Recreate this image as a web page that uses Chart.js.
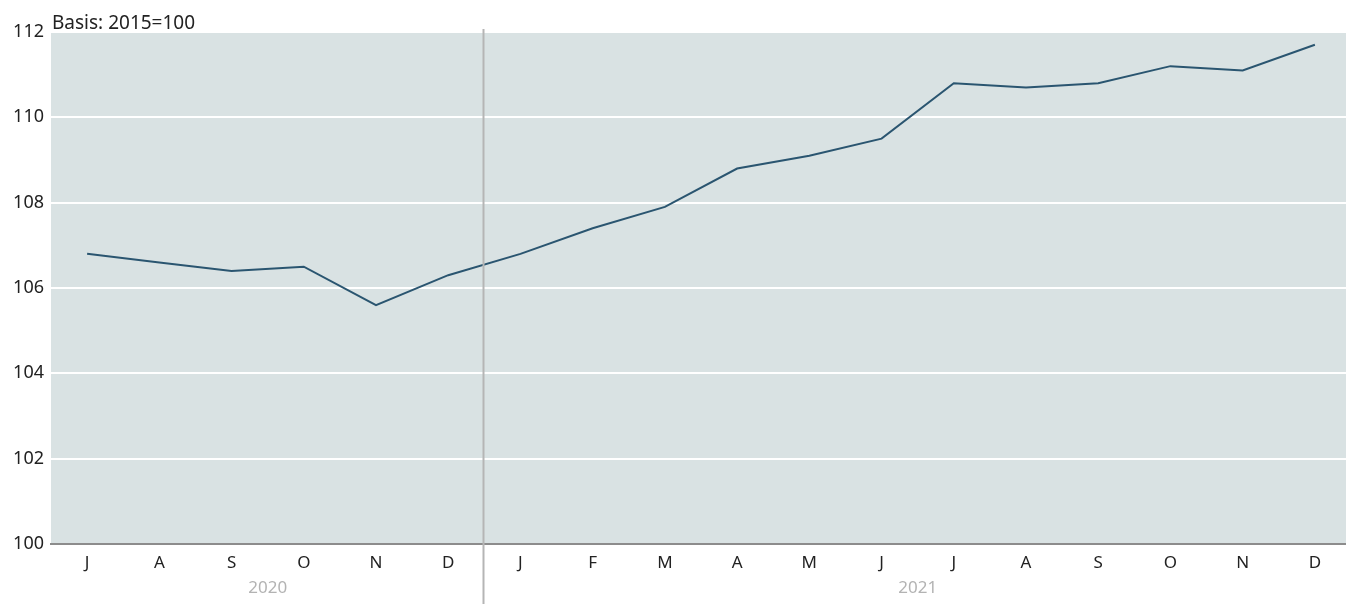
<!DOCTYPE html>
<html lang="de">
<head>
    <meta charset="UTF-8">
    <title>Index Basis 2015=100</title>
    <script src="https://cdn.jsdelivr.net/npm/chart.js"></script>
    <style>
        html, body { margin: 0; padding: 0; background: #fff; overflow: hidden; }
        .chart-container { position: relative; width: 1351px; height: 604px; }
    </style>
</head>
<body>

<div class="chart-container">
    <canvas id="indexChart"></canvas>
</div>

<script>
    // Daten
    const months = ['J', 'A', 'S', 'O', 'N', 'D', 'J', 'F', 'M', 'A', 'M', 'J', 'J', 'A', 'S', 'O', 'N', 'D'];
    const years = ['2020', '2021'];
    const monthsPerYear = [6, 12];
    const indexValues = [106.8, 106.6, 106.4, 106.5, 105.6, 106.3, 106.8, 107.4, 107.9, 108.8, 109.1, 109.5,
                         110.8, 110.7, 110.8, 111.2, 111.1, 111.7];
    const yTicks = [100, 102, 104, 106, 108, 110, 112];
    const basisText = 'Basis: 2015=100';

    const FONT = "'Noto Sans', sans-serif";

    // Hintergrund, Jahreslabels und Trennlinie
    const decorPlugin = {
        id: 'decor',
        beforeDraw(chart) {
            const { ctx, chartArea } = chart;
            ctx.save();
            ctx.fillStyle = '#d9e2e3';
            ctx.fillRect(chartArea.left, chartArea.top, chartArea.right - chartArea.left, chartArea.bottom - chartArea.top);
            ctx.restore();
        },
        afterDraw(chart) {
            const { ctx, chartArea } = chart;
            const x = chart.scales.x;
            ctx.save();

            // Basis-Text
            ctx.fillStyle = '#222';
            ctx.font = '19px ' + FONT;
            ctx.textAlign = 'left';
            ctx.textBaseline = 'alphabetic';
            ctx.fillText(basisText, chartArea.left + 1, 29);

            // Jahreslabels
            ctx.fillStyle = '#b3b3b3';
            ctx.font = '17px ' + FONT;
            ctx.textAlign = 'center';
            ctx.textBaseline = 'middle';
            let start = 0;
            years.forEach((yr, i) => {
                const end = start + monthsPerYear[i] - 1;
                const cx = (x.getPixelForValue(start) + x.getPixelForValue(end)) / 2;
                ctx.fillText(yr, cx, 588);
                start = end + 1;
            });

            // Trennlinie zwischen den Jahren
            const sepX = Math.round((x.getPixelForValue(monthsPerYear[0] - 1) + x.getPixelForValue(monthsPerYear[0])) / 2) - 0.5;
            ctx.strokeStyle = '#b5b5b5';
            ctx.lineWidth = 2;
            ctx.beginPath();
            ctx.moveTo(sepX, chartArea.top - 3);
            ctx.lineTo(sepX, chart.height);
            ctx.stroke();
            ctx.restore();
        }
    };

    const ctx = document.getElementById('indexChart').getContext('2d');

    new Chart(ctx, {
        type: 'line',
        data: {
            labels: months,
            datasets: [{
                data: indexValues,
                borderColor: '#2a5570',
                borderWidth: 2,
                pointRadius: 0,
                tension: 0,
                fill: false
            }]
        },
        options: {
            responsive: true,
            maintainAspectRatio: false,
            animation: false,
            layout: { padding: { top: 32, right: 0, bottom: 0, left: 0 } },
            plugins: {
                legend: { display: false },
                tooltip: { enabled: false }
            },
            scales: {
                x: {
                    offset: true,
                    grid: { display: false, drawTicks: false },
                    border: { display: true, color: '#8c8c8c', width: 2 },
                    ticks: {
                        color: '#222',
                        font: { family: FONT, size: 17 },
                        padding: 9,
                        maxRotation: 0,
                        autoSkip: false
                    },
                    afterFit(scale) { scale.height = 60; }
                },
                y: {
                    min: 100,
                    max: 112,
                    afterBuildTicks(scale) { scale.ticks = yTicks.map(v => ({ value: v })); },
                    grid: { color: '#ffffff', lineWidth: 2, drawTicks: false },
                    border: { display: false },
                    ticks: {
                        color: '#222',
                        font: { family: FONT, size: 18 },
                        padding: 7
                    },
                    afterFit(scale) { scale.width = 51; }
                }
            }
        },
        plugins: [decorPlugin]
    });
</script>

</body>
</html>
